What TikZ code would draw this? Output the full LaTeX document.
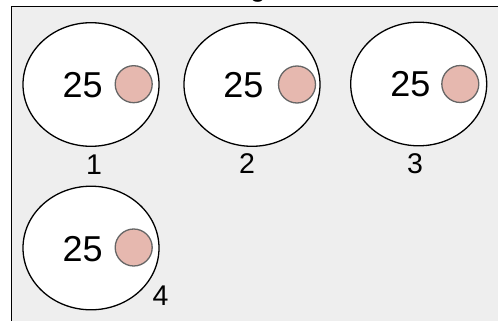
\documentclass[tikz,border=0pt]{standalone}
\usepackage{fontspec}
\setmainfont{Liberation Sans}
\definecolor{panelbg}{HTML}{EEEEEE}
\definecolor{dotfill}{HTML}{E6B8AF}
\definecolor{dotline}{HTML}{666666}
\tikzset{
  cell/.style={draw=black, line width=1.3pt, fill=white, ellipse shape},
  dot/.style={circle, draw=dotline, line width=1.3pt, fill=dotfill, minimum size=37pt, inner sep=0pt},
  val/.style={inner sep=0pt, font=\fontsize{36}{40}\selectfont},
  lbl/.style={inner sep=0pt, font=\fontsize{28.5}{32}\selectfont},
}
\begin{document}
\begin{tikzpicture}[x=1pt,y=-1pt]
\useasboundingbox (0,0) rectangle (498,321);
\clip (0,0) rectangle (498,321);
\node[inner sep=0pt, anchor=base, font=\fontsize{28}{32}\selectfont] (title) at (258,-3) {g};
\draw[fill=panelbg, draw=black, line width=1.6pt] (11.5,6.5) rectangle (530,340);
% ellipses
\foreach \n/\cx/\cy in {1/91/84.5, 2/252/84.5, 3/418.7/84, 4/91/248}{
  \draw[fill=white, draw=black, line width=1.3pt] (\cx,\cy) ellipse [x radius=68, y radius=61.8];
  \coordinate (e\n) at (\cx,\cy);
}
\node[val] (v1) at (82.7,85) {25};
\node[val] (v2) at (243.5,85) {25};
\node[val] (v3) at (410.5,84.5) {25};
\node[val] (v4) at (82.7,249.5) {25};
\node[dot] (d1) at (133.7,84.2) {};
\node[dot] (d2) at (297,84.5) {};
\node[dot] (d3) at (460.3,84) {};
\node[dot] (d4) at (133.7,247.5) {};
\node[lbl] (l1) at (94,164.5) {1};
\node[lbl] (l2) at (247,163.5) {2};
\node[lbl] (l3) at (415,164) {3};
\node[lbl] (l4) at (160.5,296) {4};
\end{tikzpicture}
\end{document}
